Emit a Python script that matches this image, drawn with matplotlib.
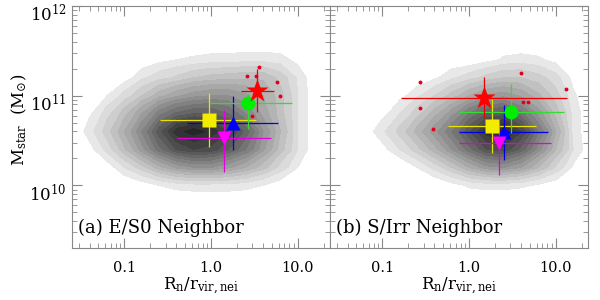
import numpy as np
import matplotlib
matplotlib.use('Agg')
import matplotlib.pyplot as plt
from matplotlib.ticker import LogLocator, NullFormatter, FixedLocator, FixedFormatter
from matplotlib.transforms import ScaledTranslation

plt.rcParams['font.family'] = ['DejaVu Serif']
plt.rcParams['mathtext.fontset'] = 'dejavuserif'

# density grid (log10 R/r_vir, log10 M_star), rows from bottom to top
log_r_grid = [-1.6, -1.4, -1.2, -1.0, -0.8, -0.6, -0.4, -0.2, 0.0, 0.2, 0.4, 0.6, 0.8, 1.0, 1.2, 1.4]
log_m_grid = [9.6, 9.8, 10.0, 10.2, 10.4, 10.6, 10.8, 11.0, 11.2, 11.4, 11.6, 11.8]

dens_es0 = [
    [0] * 16,
    [0] * 16,
    [0, 0, 0, 0, 0.2, 0.5, 0.7, 0.8, 0.8, 0.8, 0.7, 0.5, 0.2, 0, 0, 0],
    [0, 0, 0.2, 1.0, 1.8, 2.8, 3.6, 4.0, 4.0, 3.6, 3.0, 2.2, 1.3, 0.5, 0, 0],
    [0, 0.3, 1.2, 2.4, 3.8, 5.3, 6.5, 7.0, 6.8, 6.0, 5.0, 3.6, 2.2, 1.0, 0, 0],
    [0, 0.8, 1.8, 3.0, 4.5, 6.3, 7.8, 8.3, 7.8, 7.0, 5.8, 4.0, 2.5, 1.0, 0, 0],
    [0, 0.4, 1.3, 2.3, 3.5, 4.8, 5.6, 6.0, 6.0, 5.5, 4.5, 3.3, 2.2, 1.0, 0, 0],
    [0, 0, 0.5, 1.2, 2.0, 2.8, 3.4, 3.8, 4.0, 4.0, 3.6, 3.0, 2.2, 1.0, 0, 0],
    [0, 0, 0, 0.2, 0.9, 1.3, 1.6, 2.0, 2.2, 2.3, 2.4, 2.4, 1.8, 0.9, 0, 0],
    [0, 0, 0, 0, 0, 0.3, 0.5, 0.6, 0.7, 0.7, 0.8, 0.8, 0.7, 0.3, 0, 0],
    [0] * 16,
    [0] * 16,
]

dens_sirr = [
    [0] * 16,
    [0] * 16,
    [0, 0, 0, 0, 0, 0, 0, 0.3, 0.6, 0.7, 0.7, 0.6, 0.4, 0.2, 0, 0],
    [0, 0, 0, 0, 0, 0.5, 1.2, 2.0, 3.0, 3.8, 4.0, 3.5, 2.5, 1.4, 0.4, 0],
    [0, 0, 0, 0.3, 1.0, 1.8, 2.8, 4.0, 5.3, 6.5, 6.8, 5.8, 4.2, 2.5, 1.0, 0],
    [0, 0, 0.2, 0.9, 1.7, 2.7, 3.8, 5.0, 6.4, 7.8, 8.3, 7.0, 5.0, 3.0, 0.8, 0],
    [0, 0, 0, 0.3, 1.0, 1.8, 2.8, 3.8, 5.0, 6.0, 6.2, 5.2, 3.8, 2.3, 0.8, 0],
    [0, 0, 0, 0, 0.3, 0.9, 1.5, 2.2, 3.0, 3.6, 3.8, 3.4, 2.6, 1.7, 0.6, 0],
    [0, 0, 0, 0, 0, 0, 0.4, 0.9, 1.3, 1.7, 2.0, 2.0, 1.7, 1.2, 0.3, 0],
    [0, 0, 0, 0, 0, 0, 0, 0, 0, 0.3, 0.6, 0.7, 0.6, 0.3, 0, 0],
    [0] * 16,
    [0] * 16,
]

# binned medians: center, low, high
marker_names = ['square', 'triangle', 'down', 'circle', 'star']
marker_colors = ['#f2ec00', '#0000ff', '#ff00ff', '#00ee00', '#ff0000']
bar_colors = ['#e8e400', '#0000e0', '#e000e0', '#30dd30', '#ee0000']

es0_r = [0.95, 1.78, 1.41, 2.64, 3.42]
es0_r_lo = [0.26, 0.53, 0.41, 0.98, 2.24]
es0_r_hi = [3.3, 5.9, 4.9, 8.5, 5.3]
es0_m = [5.3e10, 4.9e10, 3.4e10, 8.2e10, 1.14e11]
es0_m_lo = [2.7e10, 2.5e10, 1.4e10, 4.2e10, 6.5e10]
es0_m_hi = [1.08e11, 1.0e11, 6.9e10, 1.05e11, 2.0e11]

sirr_r = [1.84, 2.5, 2.21, 3.04, 1.49]
sirr_r_lo = [0.57, 0.77, 0.77, 0.77, 0.166]
sirr_r_hi = [5.9, 8.1, 8.7, 12.3, 13.4]
sirr_m = [4.6e10, 3.9e10, 3.0e10, 6.5e10, 9.5e10]
sirr_m_lo = [2.3e10, 1.9e10, 1.3e10, 3.8e10, 5.7e10]
sirr_m_hi = [9.1e10, 7.9e10, 5.0e10, 1.35e11, 1.6e11]

# individual points
es0_dot_r = [3.6, 2.57, 3.3, 5.7, 6.2, 3.0]
es0_dot_m = [2.1e11, 1.66e11, 1.66e11, 1.42e11, 9.8e10, 6.0e10]
sirr_dot_r = [0.27, 0.27, 0.38, 4.0, 4.2, 4.8, 13.0]
sirr_dot_m = [1.42e11, 7.2e10, 4.3e10, 1.8e11, 8.4e10, 8.4e10, 1.2e11]

panel_labels = ['(a) E/S0 Neighbor', '(b) S/Irr Neighbor']

mk = {'square': ('s', 9.5), 'triangle': ('^', 10), 'down': ('v', 10),
      'circle': ('o', 10), 'star': ('*', 17)}

fig = plt.figure(figsize=(6, 3), dpi=100)
ax1 = fig.add_axes([0.12, 0.173, 0.43, 0.807])
ax2 = fig.add_axes([0.55, 0.173, 0.43, 0.807])

levels = np.arange(0.5, 9.0, 0.5)
shades = [str(g) for g in np.linspace(0.91, 0.1, len(levels))]
X = 10 ** np.array(log_r_grid)
Y = 10 ** np.array(log_m_grid)

panels = [
    (ax1, dens_es0, es0_r, es0_r_lo, es0_r_hi, es0_m, es0_m_lo, es0_m_hi, es0_dot_r, es0_dot_m),
    (ax2, dens_sirr, sirr_r, sirr_r_lo, sirr_r_hi, sirr_m, sirr_m_lo, sirr_m_hi, sirr_dot_r, sirr_dot_m),
]

for i, (ax, dens, r, rlo, rhi, m, mlo, mhi, dr, dm) in enumerate(panels):
    ax.set_xscale('log')
    ax.set_yscale('log')
    ax.contourf(X, Y, np.array(dens), levels=list(levels) + [20], colors=shades, zorder=1)
    for j, name in enumerate(marker_names):
        xerr = [[r[j] - rlo[j]], [rhi[j] - r[j]]]
        yerr = [[m[j] - mlo[j]], [mhi[j] - m[j]]]
        ax.errorbar([r[j]], [m[j]], xerr=xerr, yerr=yerr, fmt='none',
                    ecolor=bar_colors[j], elinewidth=0.9, capsize=0, zorder=3)
    ax.plot(dr, dm, 'o', color='#e0001b', markersize=2.8, mec='none', zorder=4)
    for j, name in enumerate(marker_names):
        shape, size = mk[name]
        ax.plot([r[j]], [m[j]], shape, color=marker_colors[j], markersize=size,
                mec='none', zorder=5)

    ax.set_xlim(0.025, 23.5)
    ax.set_ylim(2e9, 1e12)
    for sp in ax.spines.values():
        sp.set_color('#888888')
        sp.set_linewidth(0.8)
    ax.tick_params(which='both', direction='in', top=True, right=True,
                   color='#888888', labelsize=10.5)
    ax.tick_params(axis='x', pad=9)
    ax.tick_params(which='major', length=7)
    ax.tick_params(which='minor', length=3.5)
    ax.xaxis.set_major_locator(FixedLocator([0.1, 1.0, 10.0]))
    ax.xaxis.set_major_formatter(FixedFormatter(['0.1', '1.0', '10.0']))
    ax.xaxis.set_minor_locator(LogLocator(base=10, subs=np.arange(2, 10)))
    ax.xaxis.set_minor_formatter(NullFormatter())
    ax.yaxis.set_major_locator(FixedLocator([1e10, 1e11, 1e12]))
    ax.yaxis.set_minor_locator(LogLocator(base=10, subs=np.arange(2, 10)))
    ax.yaxis.set_minor_formatter(NullFormatter())
    ax.set_xlabel(r'$\mathregular{R_n/r_{vir,nei}}$', fontsize=12, labelpad=1)
    ax.text(0.022, 0.083, panel_labels[i], transform=ax.transAxes, fontsize=13,
            va='center', ha='left', zorder=6)

ax1.yaxis.set_major_formatter(FixedFormatter([r'$\mathregular{10^{10}}$',
                                              r'$\mathregular{10^{11}}$',
                                              r'$\mathregular{10^{12}}$']))
ax1.tick_params(axis='y', labelsize=12, pad=4)
shift = ScaledTranslation(0, -5 / 72, fig.dpi_scale_trans)
for lab in ax1.get_yticklabels():
    lab.set_transform(lab.get_transform() + shift)
ax2.set_yticklabels([])
ax1.set_ylabel(r'$\mathregular{M_{star}\ \ (M_{\odot})}$', fontsize=12)
ax1.yaxis.set_label_coords(-0.165, 0.53)

fig.savefig('out.png', dpi=100)
